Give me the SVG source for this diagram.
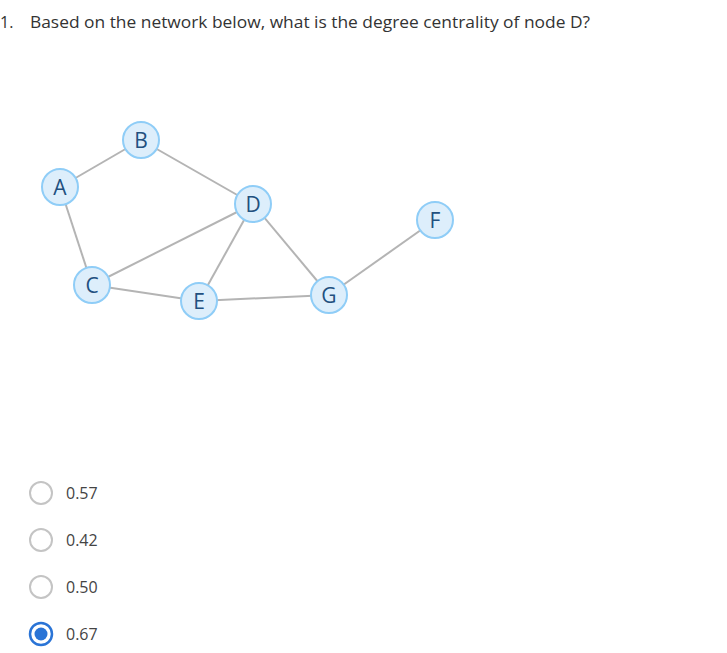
<svg xmlns="http://www.w3.org/2000/svg" width="727" height="653" viewBox="0 0 727 653">
<style>
.q{font-family:"Open Sans","Noto Sans","Liberation Sans",sans-serif;font-size:16px;fill:#333333}
.edge{stroke:#b4b4b4;stroke-width:2;fill:none}
.nc{fill:#ddeefb;stroke:#8fcdf7;stroke-width:2}
.nt{font-family:"Open Sans","Noto Sans","Liberation Sans",sans-serif;font-size:21px;fill:#22507f;text-anchor:middle}
.radio{fill:#ffffff;stroke:#c4c4c4;stroke-width:2}
.opt{font-family:"Open Sans","Noto Sans","Liberation Sans",sans-serif;font-size:16px;fill:#444444}
</style>
<rect width="727" height="653" fill="#ffffff"/>
<text class="q" x="0" y="28">1.</text>
<text class="q" x="30" y="28" textLength="560" lengthAdjust="spacingAndGlyphs">Based on the network below, what is the degree centrality of node D?</text>
<g id="connectors">
<line class="edge" x1="60" y1="187" x2="141" y2="140"/>
<line class="edge" x1="141" y1="140" x2="253" y2="204"/>
<line class="edge" x1="60" y1="187" x2="92" y2="285"/>
<line class="edge" x1="92" y1="285" x2="253" y2="204"/>
<line class="edge" x1="92" y1="285" x2="199" y2="301"/>
<line class="edge" x1="199" y1="301" x2="253" y2="204"/>
<line class="edge" x1="253" y1="204" x2="329" y2="295"/>
<line class="edge" x1="199" y1="301" x2="329" y2="295"/>
<line class="edge" x1="329" y1="295" x2="435" y2="220"/>
</g>
<g id="node-A"><circle class="nc" cx="60" cy="187" r="18"/><text class="nt" x="60" y="194.5">A</text></g>
<g id="node-B"><circle class="nc" cx="141" cy="140" r="18"/><text class="nt" x="141" y="147.5">B</text></g>
<g id="node-C"><circle class="nc" cx="92" cy="285" r="18"/><text class="nt" x="92" y="292.5">C</text></g>
<g id="node-D"><circle class="nc" cx="253" cy="204" r="18"/><text class="nt" x="253" y="211.5">D</text></g>
<g id="node-E"><circle class="nc" cx="199" cy="301" r="18"/><text class="nt" x="199" y="308.5">E</text></g>
<g id="node-F"><circle class="nc" cx="435" cy="220" r="18"/><text class="nt" x="435" y="227.5">F</text></g>
<g id="node-G"><circle class="nc" cx="329" cy="295" r="18"/><text class="nt" x="329" y="302.5">G</text></g>
<g id="options">
<circle class="radio" cx="41" cy="493" r="11"/><text class="opt" x="66" y="499">0.57</text>
<circle class="radio" cx="41" cy="540" r="11"/><text class="opt" x="66" y="546">0.42</text>
<circle class="radio" cx="41" cy="587" r="11"/><text class="opt" x="66" y="593">0.50</text>
<circle cx="41" cy="634" r="11" fill="#ffffff" stroke="#2a74d6" stroke-width="2.5"/><circle cx="41" cy="634" r="6.5" fill="#2a74d6"/><text class="opt" x="66" y="640">0.67</text>
</g>
</svg>
